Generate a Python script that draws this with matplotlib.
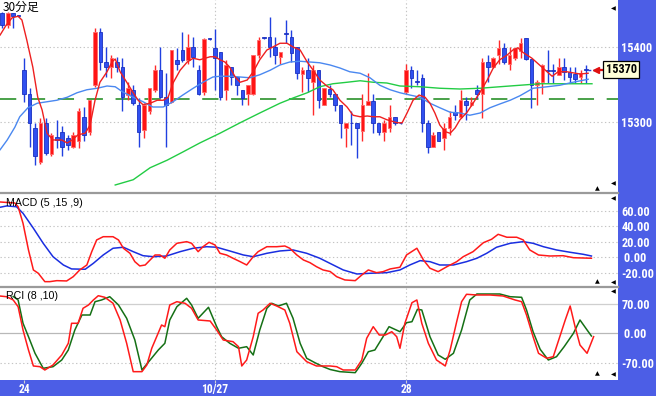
import matplotlib
matplotlib.use('Agg')
import matplotlib.pyplot as plt
from matplotlib import font_manager
import numpy as np

# ---------------- data ----------------
opens = [15446,15429,15445,15441,15369,15338,15292,15247,15298,15257,
         15280,15287,15278,15267,15274,15307,15287,15349,15420,15380,
         15373,15380,15374,15336,15343,15323,15289,15314,15343,15369,
         15334,15327,15383,15396,15383,15400,15369,15340,15411,15399,
         15394,15343,15373,15360,15343,15337,15338,15389,15412,15414,
         15400,15387,15418,15414,15400,15364,15369,15354,15369,15323,
         15344,15338,15323,15292,15298,15298,15288,15323,15328,15298,
         15287,15292,15307,15298,15340,15369,15354,15359,15298,15267,
         15287,15278,15292,15313,15307,15328,15323,15343,15338,15380,
         15374,15389,15399,15378,15385,15395,15412,15384,15349,15354,
         15368,15368,15363,15374,15367,15364,15360,15370]
highs = [15447,15447,15445,15442,15385,15345,15298,15305,15305,15285,
         15303,15294,15283,15287,15318,15320,15329,15425,15425,15400,
         15389,15387,15385,15354,15349,15332,15325,15345,15376,15400,
         15365,15396,15399,15420,15418,15414,15376,15412,15412,15424,
         15394,15383,15374,15360,15343,15349,15389,15414,15413,15440,
         15414,15394,15436,15423,15400,15374,15385,15376,15369,15345,
         15349,15338,15323,15298,15314,15298,15338,15365,15338,15298,
         15303,15323,15307,15299,15378,15375,15369,15364,15303,15287,
         15287,15298,15314,15323,15343,15334,15334,15349,15385,15389,
         15387,15409,15405,15400,15399,15412,15412,15384,15356,15378,
         15396,15378,15385,15385,15374,15374,15369,15376]
lows = [15425,15426,15425,15440,15327,15267,15243,15244,15256,15254,
        15265,15254,15263,15265,15265,15274,15283,15347,15369,15360,
        15359,15367,15314,15329,15323,15267,15278,15311,15340,15332,
        15267,15325,15369,15380,15378,15374,15336,15336,15410,15343,
        15329,15329,15349,15336,15323,15323,15336,15385,15411,15387,
        15378,15378,15405,15380,15358,15340,15340,15309,15318,15323,
        15334,15314,15278,15267,15269,15252,15274,15323,15285,15283,
        15274,15287,15296,15297,15338,15345,15349,15287,15258,15267,
        15274,15263,15283,15303,15305,15303,15321,15332,15305,15354,
        15372,15378,15378,15369,15383,15385,15383,15318,15323,15338,
        15352,15352,15363,15356,15352,15352,15352,15352]
closes = [15430,15446,15441,15441,15338,15298,15254,15298,15258,15283,
          15276,15267,15269,15283,15314,15283,15329,15420,15380,15374,
          15385,15374,15334,15345,15325,15287,15323,15345,15369,15334,
          15323,15396,15378,15383,15400,15387,15338,15411,15411,15385,
          15334,15376,15360,15349,15332,15349,15389,15409,15412,15400,
          15389,15394,15418,15392,15365,15369,15359,15369,15329,15345,
          15338,15323,15298,15298,15298,15292,15323,15328,15298,15287,
          15298,15307,15299,15298,15369,15359,15354,15298,15267,15283,
          15274,15292,15307,15309,15329,15323,15327,15338,15380,15374,
          15385,15399,15380,15389,15399,15405,15384,15349,15354,15376,
          15368,15368,15374,15367,15360,15358,15365,15370]

# moving averages (bar position, price)
ma_short = [(-0.4,15416),(0.7,15429),(1.8,15439),(2.9,15441),(3.6,15436),(4.5,15409),
            (5.6,15373),(6.5,15333),(7.3,15316),(8.2,15285),(9.3,15276),(10.9,15276),
            (11.9,15272),(12.8,15276),(13.9,15283),(15.2,15285),(16.1,15296),(17.0,15329),
            (17.9,15353),(19.2,15367),(20.1,15380),(20.7,15384),(21.6,15367),(22.9,15352),
            (24.0,15339),(24.9,15329),(25.8,15323),(27.1,15325),(28.4,15329),(29.5,15329),
            (30.4,15333),(31.3,15352),(32.6,15369),(33.9,15380),(35.0,15385),(36.2,15383),
            (38.1,15387),(39.0,15387),(39.9,15383),(40.8,15380),(41.7,15373),(42.7,15360),
            (43.6,15353),(44.9,15356),(46.0,15367),(47.2,15383),(48.5,15396),(49.6,15400),
            (50.9,15405),(52.2,15405),(53.3,15400),(54.6,15396),(55.9,15380),(57.0,15369),
            (58.2,15356),(59.5,15348),(60.6,15343),(61.9,15329),(63.2,15320),(64.3,15309),
            (65.6,15307),(66.9,15308),(68.0,15307),(69.2,15307),(70.5,15303),(72.4,15299),
            (73.3,15299),(74.2,15312),(75.3,15329),(76.4,15336),(77.5,15333),(78.4,15325),
            (79.3,15312),(80.2,15296),(81.2,15287),(82.1,15285),(83.0,15292),(83.9,15303),
            (85.2,15313),(86.3,15325),(87.6,15340),(88.9,15356),(90.0,15372),(91.2,15383),
            (92.5,15389),(93.6,15396),(94.5,15399),(95.4,15393),(97.1,15385),(99.1,15372),
            (100.8,15361),(101.9,15367),(103.5,15367),(105.9,15364),(107.4,15365)]
ma_mid = [(-0.4,15263),(0.9,15276),(2.3,15293),(3.2,15307),(4.7,15319),(6.4,15325),
          (8.2,15327),(10.0,15329),(11.9,15333),(13.7,15339),(15.5,15343),(17.4,15345),
          (19.2,15348),(20.7,15347),(22.1,15340),(24.0,15333),(25.8,15327),(27.6,15320),
          (29.5,15320),(31.3,15327),(33.1,15336),(35.0,15345),(36.8,15353),(38.6,15360),
          (39.9,15361),(41.7,15361),(43.6,15360),(45.4,15359),(47.2,15363),(49.1,15369),
          (50.9,15376),(52.7,15380),(54.6,15381),(56.4,15380),(58.2,15379),(60.1,15376),
          (61.9,15372),(63.7,15367),(65.6,15365),(67.4,15359),(69.2,15349),(71.1,15343),
          (72.9,15339),(74.7,15336),(76.6,15333),(78.4,15325),(80.2,15319),(82.1,15313),
          (83.9,15312),(85.7,15309),(87.6,15312),(89.4,15319),(91.2,15324),(93.1,15329),
          (94.9,15335),(97.3,15345),(99.9,15347),(102.2,15349),(104.6,15353),(107.4,15357)]
ma_long = [(20.7,15216),(24.0,15223),(27.1,15239),(30.2,15249),(33.1,15260),(36.2,15272),
           (39.9,15285),(43.6,15299),(47.2,15312),(50.9,15325),(53.3,15332),(55.9,15339),
           (58.2,15347),(60.6,15351),(63.2,15353),(65.6,15355),(68.0,15353),(70.5,15352),
           (72.9,15348),(76.6,15347),(80.2,15345),(83.9,15344),(87.6,15345),(91.2,15347),
           (94.9,15349),(98.6,15351),(102.2,15351),(108.1,15351)]
ref_level = 15330
last_price = 15370

macd = [(-0.4,71.6),(2.3,70.3),(2.9,65.5),(3.8,44.1),(4.8,9.7),(5.7,-16.1),(6.6,-20.4),
        (7.8,-31.2),(8.7,-31.2),(10.0,-29.9),(11.8,-30.3),(13.0,-24.8),(14.2,-16.1),
        (15.5,-9.7),(16.4,7.5),(17.3,22.6),(18.5,26.8),(20.3,26.8),(21.3,22.6),(22.2,11.9),
        (23.4,5.4),(24.3,-5.4),(25.2,-10.9),(26.2,-9.7),(27.1,-3.2),(28.0,3.2),(28.9,3.2),
        (29.8,-1.0),(30.7,9.7),(32.0,18.3),(33.8,20.4),(34.7,18.3),(35.9,7.5),(36.8,13.9),
        (37.9,19.6),(39.0,16.1),(39.9,5.4),(41.1,3.2),(42.3,-1.0),(43.6,-5.4),(44.8,-9.7),
        (46.0,1.0),(46.9,7.5),(48.5,13.9),(50.3,13.9),(51.8,14.8),(52.7,11.9),(54.0,3.2),
        (55.2,-3.2),(56.4,-6.7),(57.6,-11.9),(58.8,-16.1),(60.1,-18.1),(61.3,-24.8),
        (62.8,-29.0),(64.7,-29.9),(65.9,-22.6),(67.1,-16.1),(68.6,-19.6),(69.8,-18.3),
        (71.1,-14.8),(72.9,-12.6),(74.1,3.2),(76.0,11.9),(77.2,-3.2),(78.4,-13.9),
        (79.9,-18.3),(81.5,-11.9),(83.3,-5.4),(84.5,1.0),(86.3,7.5),(88.2,19.1),(89.7,23.5),
        (90.9,29.9),(92.5,26.1),(94.3,26.1),(95.5,22.6),(96.7,9.7),(98.3,3.2),(100.4,1.9),
        (102.8,2.3),(104.7,-0.3),(108.0,-1.0)]
macd_signal = [(-0.4,64.8),(0.8,66.5),(2.6,65.5),(3.8,57.0),(5.7,37.7),(7.5,18.3),(9.3,1.0),
               (11.2,-9.7),(12.7,-14.8),(15.2,-15.2),(16.7,-7.5),(18.5,3.2),(20.3,11.9),
               (22.2,13.2),(24.0,7.5),(25.8,2.3),(27.7,1.0),(30.1,1.9),(32.6,7.5),(35.0,11.9),
               (37.5,13.9),(39.3,13.2),(41.7,8.4),(44.2,3.2),(46.0,1.0),(48.5,5.4),(50.9,8.4),
               (53.3,9.7),(55.8,5.4),(58.2,-1.0),(60.1,-7.7),(62.5,-16.1),(65.0,-21.3),
               (67.4,-20.4),(70.5,-19.6),(72.9,-16.1),(74.7,-9.7),(76.6,-4.1),(78.4,-5.4),
               (80.2,-9.7),(82.7,-9.7),(85.1,-5.4),(87.0,-1.0),(88.8,5.4),(90.6,13.2),
               (93.1,18.3),(95.5,20.4),(97.3,18.3),(99.2,13.9),(101.6,9.7),(104.1,6.7),
               (106.5,4.1),(108.0,1.9)]

rci_short = [(-0.4,89),(0.8,87.4),(2.0,79.6),(2.9,63.5),(3.8,7.9),(4.8,-39.9),(5.7,-78.1),
             (6.9,-79.8),(7.8,-87.7),(9.3,-75.7),(10.9,-51.8),(12.1,-23.9),(12.7,23.9),
             (13.9,23.9),(14.8,59.7),(15.8,67.6),(16.7,79.6),(17.6,89.8),(18.8,86.0),
             (20.3,71.7),(21.6,31.8),(22.8,-23.9),(24.0,-91.7),(25.6,-91.7),(26.5,-75.7),
             (27.4,-35.8),(28.3,-8.1),(29.2,19.8),(29.8,15.8),(30.7,67.6),(32.0,75.5),
             (33.5,71.7),(34.7,59.7),(35.9,31.8),(38.1,29.4),(39.3,7.9),(40.5,-16.0),
             (42.3,-20.1),(43.3,-32.0),(43.9,-78.1),(44.8,-63.8),(46.0,-8.1),(46.9,47.8),
             (47.8,55.7),(49.1,71.7),(50.3,65.2),(51.8,55.7),(52.7,23.9),(54.0,-44.0),
             (55.8,-67.8),(57.6,-78.1),(60.1,-78.1),(61.3,-79.8),(62.5,-87.7),(64.7,-87.7),
             (65.9,-63.8),(66.8,-11.9),(68.0,15.8),(69.1,-4.1),(70.2,-4.1),(71.4,3.8),
             (72.3,-8.1),(72.9,-35.8),(73.8,23.9),(75.1,73.1),(76.0,79.6),(76.9,23.9),
             (78.1,-23.9),(79.6,-63.8),(81.2,-78.1),(82.1,-39.9),(83.3,27.7),(84.2,75.5),
             (85.1,93.2),(87.0,91.5),(89.4,91.5),(91.8,89.1),(94.0,79.6),(95.2,75.5),
             (96.1,43.7),(97.3,-8.1),(98.3,-47.8),(99.8,-59.7),(101.0,-55.9),(102.2,-8.1),
             (103.2,31.8),(104.1,65.2),(105.0,15.8),(105.9,-28.0),(107.2,-47.8),(108.4,-8.1)]
rci_long = [(2.0,88),(2.9,79.6),(3.8,23.9),(4.8,-8.1),(6.0,-47.8),(7.5,-83.6),(9.3,-79.8),
            (10.9,-63.8),(12.1,-39.9),(13.3,7.9),(14.6,43.7),(16.1,43.7),(17.0,75.5),
            (18.2,79.6),(19.7,87.4),(21.3,67.6),(22.8,35.8),(24.3,-16.0),(25.6,-87.7),
            (27.1,-63.8),(28.6,-39.9),(29.8,-23.9),(30.7,31.8),(32.0,63.5),(33.8,83.6),
            (34.7,67.6),(35.9,35.8),(37.8,62.1),(39.3,15.8),(40.2,-8.1),(41.7,-23.9),
            (43.3,-35.8),(44.8,-32.0),(46.0,-51.8),(47.2,7.9),(48.5,59.7),(49.4,71.7),
            (50.6,65.2),(52.1,71.7),(53.3,35.8),(54.6,-23.9),(55.8,-59.7),(57.3,-70.2),
            (58.8,-79.8),(60.1,-86.5),(61.9,-91.7),(64.7,-94.1),(65.9,-71.7),(67.1,-44.0),
            (68.3,-39.9),(69.8,-8.1),(70.9,15.8),(72.9,3.8),(74.1,25.3),(75.1,27.7),
            (76.1,57.3),(76.9,55.7),(78.4,-8.1),(79.9,-51.8),(81.2,-62.1),(82.7,-47.8),
            (84.2,7.9),(85.7,79.6),(87.0,93.9),(91.2,93.9),(93.1,87.4),(95.2,86.0),
            (96.1,55.7),(97.3,3.8),(98.6,-38.2),(100.1,-63.8),(101.6,-55.9),(103.0,-32.0),
            (104.7,0.0),(105.9,31.8),(107.2,7.9),(108.0,-6.5)]

date_pos = [4, 39, 74]
date_labels = ['24', '10/27', '28']
price_ticks = [15300, 15400]
macd_ticks = [60, 40, 20, 0, -20]
macd_labels = ['60.00', '40.00', '20.00', ' 0.00', '-20.00']
rci_ticks = [70, 0, -70]
rci_labels = ['70.00', ' 0.00', '-70.00']

# ---------------- figure ----------------
W, H = 656, 396
fig = plt.figure(figsize=(W / 100, H / 100), dpi=100)
BG = '#4c5ee6'
fig.patch.set_facecolor(BG)

avail = {f.name for f in font_manager.fontManager.ttflist}
NUMFONT = 'DejaVu Sans'
for cand in ('Liberation Sans Narrow', 'Roboto Condensed', 'DejaVu Sans Condensed',
             'Liberation Sans'):
    if cand in avail:
        NUMFONT = cand
        break
NUMSIZE = 8.8
TXTFONT = 'Liberation Sans' if 'Liberation Sans' in avail else 'DejaVu Sans'


def px_axes(x0, y0, x1, y1):
    return fig.add_axes([x0 / W, 1 - y1 / H, (x1 - x0) / W, (y1 - y0) / H])


ax1 = px_axes(0, 0, 618, 193)
ax2 = px_axes(0, 193, 618, 287)
ax3 = px_axes(0, 287, 618, 380)
XL = (-0.42, 112.87)
for ax in (ax1, ax2, ax3):
    ax.set_facecolor('white')
    ax.set_xlim(*XL)
    for s in ('left', 'right', 'bottom', 'top'):
        ax.spines[s].set_visible(False)
    ax.yaxis.tick_right()
    ax.tick_params(axis='y', length=0, pad=2.3, labelcolor='white', labelsize=NUMSIZE)
    ax.set_xticks([])
for ax in (ax2, ax3):
    ax.spines['top'].set_visible(True)
    ax.spines['top'].set_color('#9a9a9a')
    ax.spines['top'].set_linewidth(1.6)

grid_kw = dict(color='#c4c4c4', lw=0.8, ls=(0, (1.2, 2.2)), zorder=0.5)

# ---- main panel ----
ax1.set_ylim(15205.3, 15462.7)
for p in price_ticks:
    ax1.axhline(p, **grid_kw)
for d in date_pos[1:]:
    ax1.axvline(d, **grid_kw)
ax1.axhline(ref_level, color='#3a9a3a', lw=1.3, ls=(0, (9, 7)), zorder=1)

o = np.array(opens, float); h = np.array(highs, float)
l = np.array(lows, float); c = np.array(closes, float)
idx = np.arange(len(o))
up = c > o
dn = ~up
lo = np.minimum(o, c)
bh = np.maximum(np.abs(c - o), 1.1)
ax1.vlines(idx[up], l[up], h[up], color='#ff2a2a', lw=1.0, zorder=2)
ax1.vlines(idx[dn], l[dn], h[dn], color='#2040e0', lw=1.0, zorder=2)
ax1.bar(idx[up], bh[up], bottom=lo[up], width=0.66, color='#ff1414',
        edgecolor='#ff6a6a', lw=0.6, zorder=3)
ax1.bar(idx[dn], bh[dn], bottom=lo[dn], width=0.66, color='#3050f0',
        edgecolor='#1a30c0', lw=0.6, zorder=3)

for series, col in ((ma_long, '#22cc44'), (ma_mid, '#4a88f0'), (ma_short, '#ee2020')):
    t, v = zip(*series)
    ax1.plot(t, v, color=col, lw=1.0, zorder=4)

ax1.set_yticks(price_ticks)
ax1.set_yticklabels([str(p) for p in price_ticks], fontfamily=NUMFONT,
                    fontweight='bold')

# current price marker
ax1.plot([idx[-1] + 0.3, 109.0], [last_price, last_price], color='#2040e0', lw=1.0,
         ls=(0, (2, 1.5)), zorder=4, clip_on=False)
ax1.plot([109.0, 110.2], [last_price, last_price], color='#e01010', lw=1.6,
         zorder=5, clip_on=False)
ax1.plot([108.9], [last_price], marker='<', ms=5, color='#e01010', zorder=5,
         clip_on=False)
ax1.text(110.6, last_price, f'{last_price}', ha='left', va='center',
         fontsize=NUMSIZE, fontfamily=NUMFONT, fontweight='bold', color='black',
         bbox=dict(boxstyle='square,pad=0.18', fc='#ffffd8', ec='black', lw=0.9),
         zorder=6, clip_on=False)

# ---- MACD panel ----
ax2.set_ylim(-38.1, 83.2)
for v in macd_ticks:
    ax2.axhline(v, **grid_kw)
for d in date_pos[1:]:
    ax2.axvline(d, **grid_kw)
t, v = zip(*macd_signal)
ax2.plot(t, v, color='#1a2ee0', lw=1.1, zorder=3)
t, v = zip(*macd)
ax2.plot(t, v, color='#ff1a1a', lw=1.1, zorder=3)
ax2.set_yticks(macd_ticks)
ax2.set_yticklabels(macd_labels, fontfamily=NUMFONT, fontweight='bold')

# ---- RCI panel ----
ax3.set_ylim(-111.6, 110.6)
ax3.axhline(70, color='#cfcfcf', lw=0.9, zorder=0.5)
ax3.axhline(0, color='#b8b8b8', lw=0.9, zorder=0.5)
ax3.axhline(-70, **grid_kw)
for d in date_pos[1:]:
    ax3.axvline(d, **grid_kw)
t, v = zip(*rci_long)
ax3.plot(t, v, color='#157015', lw=1.1, zorder=3)
t, v = zip(*rci_short)
ax3.plot(t, v, color='#ff1a1a', lw=1.1, zorder=3)
ax3.set_yticks(rci_ticks)
ax3.set_yticklabels(rci_labels, fontfamily=NUMFONT, fontweight='bold')
ax3.set_xticks(date_pos)
ax3.set_xticklabels(date_labels, fontfamily=NUMFONT, fontweight='bold')
ax3.tick_params(axis='x', length=2.0, width=0.8, color='#d0d0d0', pad=0.2,
                labelcolor='white', labelsize=8.3)

# ---- panel titles ----
fig.text(3 / W, 1 - 7 / H, '30分足', ha='left', va='center', fontsize=8.5,
         family=['Noto Sans CJK JP', 'DejaVu Sans'], color='black')
fig.text(6 / W, 1 - 202.5 / H, 'MACD (5 ,15 ,9)', ha='left', va='center',
         fontsize=7.7, family=TXTFONT, color='black')
fig.text(6 / W, 1 - 296 / H, 'RCI (8 ,10)', ha='left', va='center',
         fontsize=7.7, family=TXTFONT, color='black')

# ---- scroll markers ----
mk = dict(ha='center', va='center', fontsize=4.5, color='black', family='DejaVu Sans')
for (x, y) in ((613, 9), (613, 184), (613, 199), (613, 283), (613, 292), (613, 375)):
    fig.text(x / W, 1 - y / H, '\u25C0', **mk)
for (x, y) in ((597, 189), (597, 282), (597, 374)):
    fig.text(x / W, 1 - y / H, '\u25B2', **mk)

fig.savefig('out.png', dpi=100, facecolor=BG)
